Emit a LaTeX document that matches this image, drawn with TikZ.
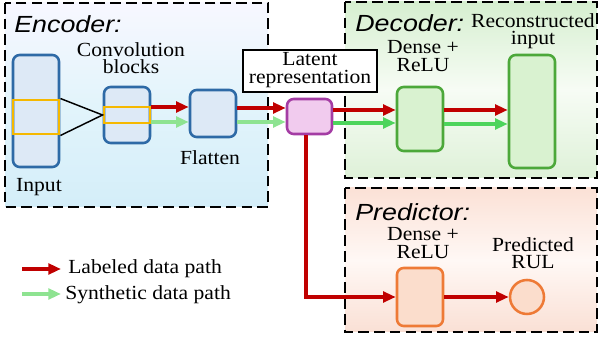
\documentclass[tikz,border=0pt]{standalone}
\usepackage{fontspec}
\setmainfont{Liberation Serif}
\newfontfamily\titlefont{Liberation Sans}
\usetikzlibrary{arrows.meta}
\definecolor{bluebd}{HTML}{2E6AA6}
\definecolor{bluefl}{HTML}{DDE9F6}
\definecolor{yel}{HTML}{F5B800}
\definecolor{purbd}{HTML}{A43CA4}
\definecolor{purfl}{HTML}{F1CBEE}
\definecolor{grnbd}{HTML}{4CA83A}
\definecolor{grnfl}{HTML}{D9F2D0}
\definecolor{orabd}{HTML}{EE7A36}
\definecolor{orafl}{HTML}{FBDDCC}
\definecolor{redar}{HTML}{C00000}
\definecolor{grnlt}{HTML}{8EE391}
\definecolor{grndk}{HTML}{4DD45C}
\tikzset{
  x=0.75pt, y=-0.75pt,
  grp/.style={draw=black, line width=1.5pt, dash pattern=on 8pt off 3.8pt},
  blk/.style={draw, rounded corners=5pt, line width=1.9pt, inner sep=0pt, minimum width=34.5pt},
  bblk/.style={blk, draw=bluebd, fill=bluefl},
  gblk/.style={blk, draw=grnbd, fill=grnfl},
  oblk/.style={blk, draw=orabd, fill=orafl},
  yrect/.style={draw=yel, line width=2.2pt, inner sep=0pt, minimum width=34.5pt},
  lbl/.style={font=\fontsize{15}{13}\selectfont, align=center, xscale=1.08, inner sep=0pt},
  ttl/.style={font=\titlefont\itshape\fontsize{17.5}{20}\selectfont, xscale=1.15, inner sep=0pt, anchor=west},
  redarrow/.style={draw=redar, line width=3pt, -{Triangle[length=9.5pt,width=8pt]}},
  ltarrow/.style={draw=grnlt, line width=3pt, -{Triangle[length=9.5pt,width=8pt]}},
  dkarrow/.style={draw=grndk, line width=3pt, -{Triangle[length=9.5pt,width=8pt]}},
}
\begin{document}
\begin{tikzpicture}
\useasboundingbox (0,0) rectangle (600,341);
% group frames
\path[grp, top color=blue!3!white, bottom color={rgb,255:red,212;green,238;blue,249}, middle color={rgb,255:red,226;green,244;blue,251}] (5,3) rectangle (268,207);
\path[grp, top color={rgb,255:red,214;green,239;blue,208}, bottom color={rgb,255:red,222;green,241;blue,216}, middle color={rgb,255:red,247;green,252;blue,245}] (345,2) rectangle (597,178);
\path[grp, top color={rgb,255:red,251;green,225;blue,214}, bottom color={rgb,255:red,250;green,224;blue,213}, middle color={rgb,255:red,255;green,248;blue,245}] (345,188) rectangle (597,332);
% titles
\node[ttl] (tenc) at (14,24) {Encoder:};
\node[ttl] (tdec) at (355,23) {Decoder:};
\node[ttl] (tpre) at (355,212) {Predictor:};
% encoder blocks
\node[bblk, minimum height=84pt] (input) at (36,111) {};
\node[yrect, minimum height=25.5pt] (inyel) at (36,117) {};
\node[bblk, minimum height=42pt] (conv) at (127,115) {};
\node[yrect, minimum height=12pt] (convyel) at (127,115) {};
\node[bblk, minimum height=35.25pt] (flat) at (213,113.5) {};
\draw[line width=1.1pt] (inyel.north east) -- (convyel.west) -- (inyel.south east);
\node[lbl] (linput) at (39,187) {Input};
\node[lbl] (lconv) at (131,58) {Convolution\\blocks};
\node[lbl] (lflat) at (210,158) {Flatten};
% latent
\node[blk, draw=purbd, fill=purfl, minimum width=33.75pt, minimum height=26.25pt] (latent) at (309.5,116.5) {};
\node[draw, fill=white, line width=0.8pt, minimum width=100.5pt, minimum height=31.5pt, inner sep=0pt] (latbox) at (310,71) {};
\node[lbl] (llat) at (310,70) {Latent\\representation};
% decoder
\node[gblk, minimum height=48pt] (ddense) at (420,119) {};
\node[gblk, minimum height=84.75pt] (recon) at (532,111.5) {};
\node[lbl] (lddense) at (423,56) {Dense +\\ReLU};
\node[lbl] (lrecon) at (533,31) {Reconstructed\\input};
% predictor
\node[oblk, minimum height=43.5pt] (pdense) at (420,297) {};
\node[circle, draw=orabd, fill=orafl, line width=1.9pt, minimum size=25.5pt, inner sep=0pt] (rul) at (527,297) {};
\node[lbl] (lpdense) at (423,243) {Dense +\\ReLU};
\node[lbl] (lrul) at (533,253) {Predicted\\RUL};
% arrows
\draw[redarrow] (conv.east |- 0,107) -- (flat.west |- 0,107);
\draw[ltarrow] (conv.east |- 0,122) -- (flat.west |- 0,122);
\draw[redarrow] (flat.east |- 0,108) -- (latent.west |- 0,108);
\draw[ltarrow] (flat.east |- 0,122) -- (latent.west |- 0,122);
\draw[redarrow] (latent.east |- 0,110) -- (ddense.west |- 0,110);
\draw[dkarrow] (latent.east |- 0,123) -- (ddense.west |- 0,123);
\draw[redarrow] (ddense.east |- 0,110) -- (recon.west |- 0,110);
\draw[dkarrow] (ddense.east |- 0,124) -- (recon.west |- 0,124);
\draw[redarrow] ([xshift=-2.6pt]latent.south) |- (pdense.west);
\draw[redarrow] (pdense.east) -- (rul.west);
% legend
\coordinate (lr1) at (22,269);
\coordinate (lr2) at (61,269);
\coordinate (lg1) at (22,294);
\coordinate (lg2) at (61,294);
\draw[redarrow] (lr1) -- (lr2);
\draw[ltarrow] (lg1) -- (lg2);
\node[lbl, anchor=west] (leg1) at (68,269) {Labeled data path};
\node[lbl, anchor=west] (leg2) at (65,295) {Synthetic data path};
\end{tikzpicture}
\end{document}
